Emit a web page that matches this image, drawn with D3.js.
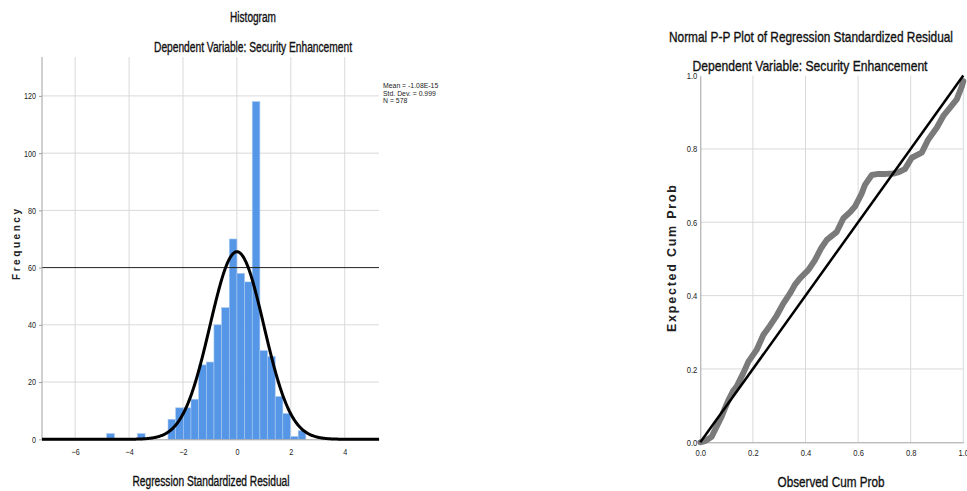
<!DOCTYPE html>
<html>
<head>
<meta charset="utf-8">
<script src="https://cdn.jsdelivr.net/npm/d3@7/dist/d3.min.js"></script>
<style>
  body { margin: 0; background: #fff; }
  svg { display: block; }
  text { font-family: "Liberation Sans Narrow", "Arial Narrow", "Liberation Sans", sans-serif; fill: #222; }
  .title { fill: #111; stroke: #111; stroke-width: 0.35px; }
</style>
</head>
<body>
<svg id="chart" width="967" height="491"></svg>
<script>
// ---------- Histogram data ----------
const binStarts = [-4.83, -3.69, -2.556, -2.272, -1.988, -1.704, -1.42, -1.136, -0.852, -0.568, -0.284, 0, 0.284, 0.568, 0.852, 1.136, 1.42, 1.704, 1.988, 2.272];
const binCounts = [2, 2, 7, 11, 11, 14, 26, 27, 40, 46, 70, 58, 55, 118, 31, 29, 15, 9, 1, 3];
const binWidth = 0.284;
const histXTicks = [-6, -4, -2, 0, 2, 4];
const histYTicks = [0, 20, 40, 60, 80, 100, 120];
const statMean = -1.08e-15, statSD = 0.999, statN = 578;
const legendLines = ["Mean = -1.08E-15", "Std. Dev. = 0.999", "N = 578"];
const refLineValue = 60;

// ---------- P-P plot data ----------
const ppObserved = [0, 0.02, 0.043, 0.06, 0.081, 0.095, 0.107, 0.125, 0.138, 0.163, 0.183, 0.214, 0.24, 0.265, 0.29, 0.316, 0.341, 0.36, 0.379, 0.411, 0.436, 0.46, 0.481, 0.519, 0.544, 0.57, 0.588, 0.614, 0.626, 0.652, 0.677, 0.705, 0.734, 0.755, 0.778, 0.804, 0.842, 0.867, 0.899, 0.924, 0.949, 0.975, 0.994, 1.0];
const ppExpected = [0, 0.004, 0.015, 0.04, 0.07, 0.095, 0.115, 0.14, 0.152, 0.188, 0.22, 0.252, 0.293, 0.318, 0.345, 0.379, 0.406, 0.43, 0.447, 0.47, 0.497, 0.53, 0.552, 0.574, 0.611, 0.628, 0.643, 0.679, 0.702, 0.729, 0.732, 0.732, 0.733, 0.737, 0.745, 0.776, 0.79, 0.826, 0.858, 0.89, 0.912, 0.935, 0.97, 0.985];
const ppTicks = [0, 0.2, 0.4, 0.6, 0.8, 1.0];

const svg = d3.select("#chart");
const gridColor = "#d9d9d9";
const axisColor = "#a0a0a0";

function narrow(sel, factor) {
  // compress tick labels horizontally to mimic a narrow face
  sel.each(function () {
    const t = d3.select(this);
    const w = this.getComputedTextLength();
    t.attr("textLength", w * factor).attr("lengthAdjust", "spacingAndGlyphs");
  });
}

// ================= HISTOGRAM =================
{
  const x = d3.scaleLinear().domain([-7.23, 5.27]).range([42, 379]);
  const y = d3.scaleLinear().domain([0, 133.6]).range([439.3, 57]);
  const g = svg.append("g");

  g.selectAll("line.vg").data(histXTicks).join("line")
    .attr("x1", d => x(d)).attr("x2", d => x(d))
    .attr("y1", y.range()[1]).attr("y2", y(0))
    .attr("stroke", gridColor).attr("stroke-width", 1);
  g.selectAll("line.hg").data(histYTicks.filter(d => d > 0 && d !== refLineValue)).join("line")
    .attr("x1", x.range()[0]).attr("x2", x.range()[1])
    .attr("y1", d => y(d)).attr("y2", d => y(d))
    .attr("stroke", gridColor).attr("stroke-width", 1);

  g.selectAll("rect.bar").data(binStarts).join("rect")
    .attr("x", d => x(d))
    .attr("width", x(binWidth) - x(0))
    .attr("y", (d, i) => y(binCounts[i]))
    .attr("height", (d, i) => y(0) - y(binCounts[i]))
    .attr("fill", "#5596e6")
    .attr("stroke", "#a9c9f0").attr("stroke-width", 0.6);

  g.append("line")
    .attr("x1", x.range()[0]).attr("x2", x.range()[1])
    .attr("y1", y(refLineValue)).attr("y2", y(refLineValue))
    .attr("stroke", "#222").attr("stroke-width", 1);

  const ya = g.append("g").attr("transform", `translate(${x.range()[0]},0)`)
    .call(d3.axisLeft(y).tickValues(histYTicks).tickSize(3).tickPadding(3).tickFormat(d3.format("d")));
  ya.select(".domain").attr("stroke", axisColor).attr("d", `M0,${y.range()[1]}V${y(0)}`);
  ya.selectAll(".tick line").attr("stroke", axisColor);
  ya.selectAll("text").style("font-size", "9px").attr("fill", "#333").call(narrow, 0.8);

  const xa = g.append("g").attr("transform", `translate(0,${y(0)})`)
    .call(d3.axisBottom(x).tickValues(histXTicks).tickSize(0).tickPadding(9).tickFormat(d3.format("d")));
  xa.select(".domain").attr("stroke", axisColor);
  xa.selectAll("text").style("font-size", "9px").attr("fill", "#333").call(narrow, 0.8);

  const [x0, x1] = x.domain();
  const pts = d3.range(x0, x1 + 0.001, 0.02);
  const dens = v => statN * binWidth / (statSD * Math.sqrt(2 * Math.PI)) * Math.exp(-0.5 * Math.pow((v - statMean) / statSD, 2));
  g.append("path")
    .datum(pts)
    .attr("d", d3.line().x(d => x(d)).y(d => y(dens(d))))
    .attr("fill", "none").attr("stroke", "#000").attr("stroke-width", 3);

  g.selectAll("text.leg").data(legendLines).join("text")
    .attr("x", 383).attr("y", (d, i) => 88 + i * 7.6)
    .style("font-size", "8px").attr("fill", "#333").text(d => d).call(narrow, 0.86);

  svg.append("text").attr("class", "title").attr("x", 253).attr("y", 22).attr("text-anchor", "middle")
    .style("font-size", "14px").attr("textLength", 46).attr("lengthAdjust", "spacingAndGlyphs").text("Histogram");
  svg.append("text").attr("class", "title").attr("x", 253).attr("y", 51.5).attr("text-anchor", "middle")
    .style("font-size", "14px").attr("textLength", 198).attr("lengthAdjust", "spacingAndGlyphs").text("Dependent Variable: Security Enhancement");
  svg.append("text").attr("class", "title").attr("x", 211).attr("y", 486).attr("text-anchor", "middle")
    .style("font-size", "14px").attr("textLength", 157).attr("lengthAdjust", "spacingAndGlyphs").text("Regression Standardized Residual");
  svg.append("text").attr("transform", "translate(19.5,243.5) rotate(-90)").attr("text-anchor", "middle")
    .style("font-family", "'Liberation Sans', Arial, sans-serif").style("font-weight", "bold").style("font-size", "10px")
    .style("letter-spacing", "2px").attr("fill", "#111").attr("textLength", 73).attr("lengthAdjust", "spacing").text("Frequency");
}

// ================= P-P PLOT =================
{
  const x = d3.scaleLinear().domain([0, 1]).range([700.3, 963.3]);
  const y = d3.scaleLinear().domain([0, 1]).range([442.3, 75.6]);
  const g = svg.append("g");

  g.selectAll("line.vg").data(ppTicks.filter(d => d > 0)).join("line")
    .attr("x1", d => x(d)).attr("x2", d => x(d))
    .attr("y1", y(1)).attr("y2", y(0))
    .attr("stroke", gridColor).attr("stroke-width", 1);
  g.selectAll("line.hg").data(ppTicks.filter(d => d > 0 && d < 1)).join("line")
    .attr("x1", x(0)).attr("x2", x(1))
    .attr("y1", d => y(d)).attr("y2", d => y(d))
    .attr("stroke", gridColor).attr("stroke-width", 1);

  const ya = g.append("g").attr("transform", `translate(${x(0)},0)`)
    .call(d3.axisLeft(y).tickValues(ppTicks).tickSize(0).tickPadding(3).tickFormat(d3.format(".1f")));
  ya.select(".domain").attr("stroke", axisColor);
  ya.selectAll("text").style("font-size", "9.5px").attr("fill", "#333").call(narrow, 0.8);

  const xa = g.append("g").attr("transform", `translate(0,${y(0)})`)
    .call(d3.axisBottom(x).tickValues(ppTicks).tickSize(0).tickPadding(7).tickFormat(d3.format(".1f")));
  xa.select(".domain").attr("stroke", axisColor);
  xa.selectAll("text").style("font-size", "9.5px").attr("fill", "#333").call(narrow, 0.8);

  const pp = ppObserved.map((d, i) => [d, ppExpected[i]]);
  g.append("path").datum(pp)
    .attr("d", d3.line().x(d => x(d[0])).y(d => y(d[1])))
    .attr("fill", "none").attr("stroke", "#7a7a7a").attr("stroke-width", 6)
    .attr("stroke-linejoin", "round").attr("stroke-linecap", "round");

  g.append("line")
    .attr("x1", x(0)).attr("y1", y(0)).attr("x2", x(1)).attr("y2", y(1))
    .attr("stroke", "#000").attr("stroke-width", 2.5);

  svg.append("text").attr("class", "title").attr("x", 811).attr("y", 41.5).attr("text-anchor", "middle")
    .style("font-size", "15px").attr("textLength", 284).attr("lengthAdjust", "spacingAndGlyphs").text("Normal P-P Plot of Regression Standardized Residual");
  svg.append("text").attr("class", "title").attr("x", 810).attr("y", 71).attr("text-anchor", "middle")
    .style("font-size", "15px").attr("textLength", 235).attr("lengthAdjust", "spacingAndGlyphs").text("Dependent Variable: Security Enhancement");
  svg.append("text").attr("class", "title").attr("x", 831).attr("y", 486.5).attr("text-anchor", "middle")
    .style("font-size", "15px").attr("textLength", 107).attr("lengthAdjust", "spacingAndGlyphs").text("Observed Cum Prob");
  svg.append("text").attr("transform", "translate(675.5,258.5) rotate(-90)").attr("text-anchor", "middle")
    .style("font-family", "'Liberation Sans', Arial, sans-serif").style("font-weight", "bold").style("font-size", "12.5px")
    .attr("fill", "#111").attr("textLength", 147).attr("lengthAdjust", "spacing").text("Expected Cum Prob");
}
</script>
</body>
</html>
